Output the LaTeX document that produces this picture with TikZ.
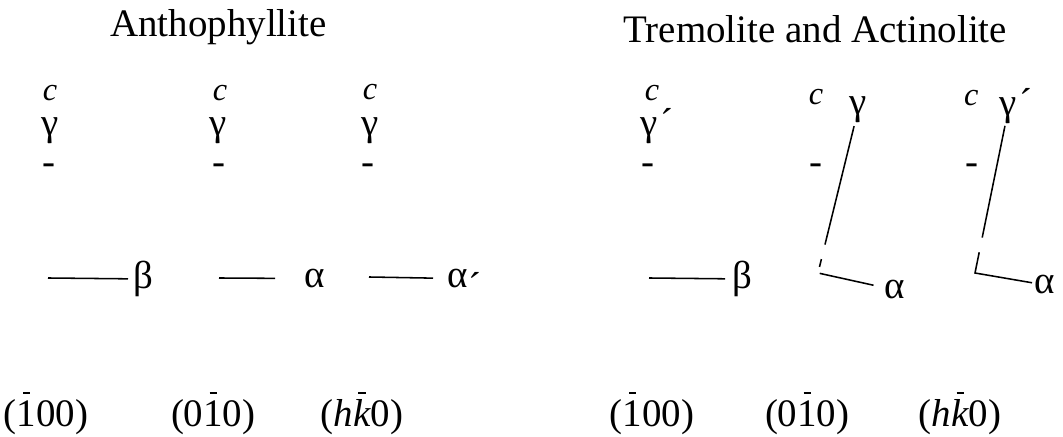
\documentclass[tikz,border=0pt]{standalone}
\usepackage{fontspec}
\setmainfont{Liberation Serif}
\newsavebox\digbox
\newcommand\barred[1]{\sbox\digbox{#1}\rlap{\makebox[\wd\digbox]{\raisebox{0.86em}{\rule{0.18em}{0.05em}}}}#1}
\newcommand\tick{\rlap{\smash{\kern0.08em´}}}
\newcommand\lowtick{\rlap{\smash{\raisebox{-0.3em}{´}}}}
\begin{document}
\begin{tikzpicture}[every node/.style={inner sep=0pt,font=\fontsize{27.7}{33}\selectfont}, axis/.style={line width=1.1pt}, caxis/.style={font=\fontsize{23}{27}\selectfont\itshape}]
\useasboundingbox (0,0) rectangle (26.575,10.925);
% titles
\node[anchor=base] (ttlA) at (5.46,10.0) {Anthophyllite};
\node[anchor=base] (ttlT) at (20.38,9.85) {Tremolite and Actinolite};
% c axes
\node[caxis] (c1) at (1.25,8.6) {c};
\node[caxis] (c2) at (5.5,8.6) {c};
\node[caxis] (c3) at (9.25,8.62) {c};
\node[caxis] (c4) at (16.3,8.6) {c};
\node[caxis] (c5) at (20.4,8.5) {c};
\node[caxis] (c6) at (24.28,8.48) {c};
% gamma
\node (g1) at (1.25,7.66) {γ};
\node (g2) at (5.45,7.66) {γ};
\node (g3) at (9.25,7.66) {γ};
\node (g4) at (16.23,7.66) {γ\tick};
\node (g5) at (21.45,8.17) {γ};
\node (g6) at (25.2,8.15) {γ\tick};
% small marks
\node[anchor=base] (d1) at (1.23,6.55) {-};
\node[anchor=base] (d2) at (5.48,6.55) {-};
\node[anchor=base] (d3) at (9.2,6.55) {-};
\node[anchor=base] (d4) at (16.2,6.55) {-};
\node[anchor=base] (d5) at (20.4,6.55) {-};
\node[anchor=base] (d6) at (24.3,6.55) {-};
% alpha and beta
\node (b1) at (3.575,3.95) {β};
\node (a2) at (7.875,3.96) {α};
\node (a3) at (11.45,3.96) {α\lowtick};
\node (b4) at (18.55,3.95) {β};
\node (a5) at (22.375,3.675) {α};
\node (a6) at (26.125,3.8) {α};
\coordinate (s1) at (1.2,3.975);
\coordinate (s2) at (5.475,3.975);
\coordinate (s3) at (9.225,4.0);
\coordinate (s4) at (16.225,3.975);
\coordinate (k5) at (20.45,4.1);
\coordinate (k6) at (24.375,4.1);
\draw[axis,shorten >=0.375cm] (s1) -- (b1.center);
\draw[axis,shorten >=1.0cm] (s2) -- (a2.center);
\draw[axis,shorten >=0.625cm] (s3) -- (a3.center);
\draw[axis,shorten >=0.425cm] (s4) -- (b4.center);
\draw[axis,shorten <=0.41cm,shorten >=0.55cm,dash pattern=on 3.05cm off 0.375cm on 0.2cm off 0.2cm on 7.5cm] (g5.center) -- (k5) -- (a5.center);
\draw[axis,shorten <=0.38cm,shorten >=0.33cm,dash pattern=on 2.85cm off 0.375cm on 7.5cm] (g6.center) -- (k6) -- (a6.center);
% planes
\node[anchor=base] (p1) at (1.15,0.25) {(\barred{1}00)};
\node[anchor=base] (p2) at (5.33,0.25) {(0\barred{1}0)};
\node[anchor=base] (p3) at (9.05,0.25) {(\textit{h}\barred{\textit{k}}0)};
\node[anchor=base] (p4) at (16.3,0.25) {(\barred{1}00)};
\node[anchor=base] (p5) at (20.18,0.25) {(0\barred{1}0)};
\node[anchor=base] (p6) at (24.0,0.25) {(\textit{h}\barred{\textit{k}}0)};
\end{tikzpicture}
\end{document}
